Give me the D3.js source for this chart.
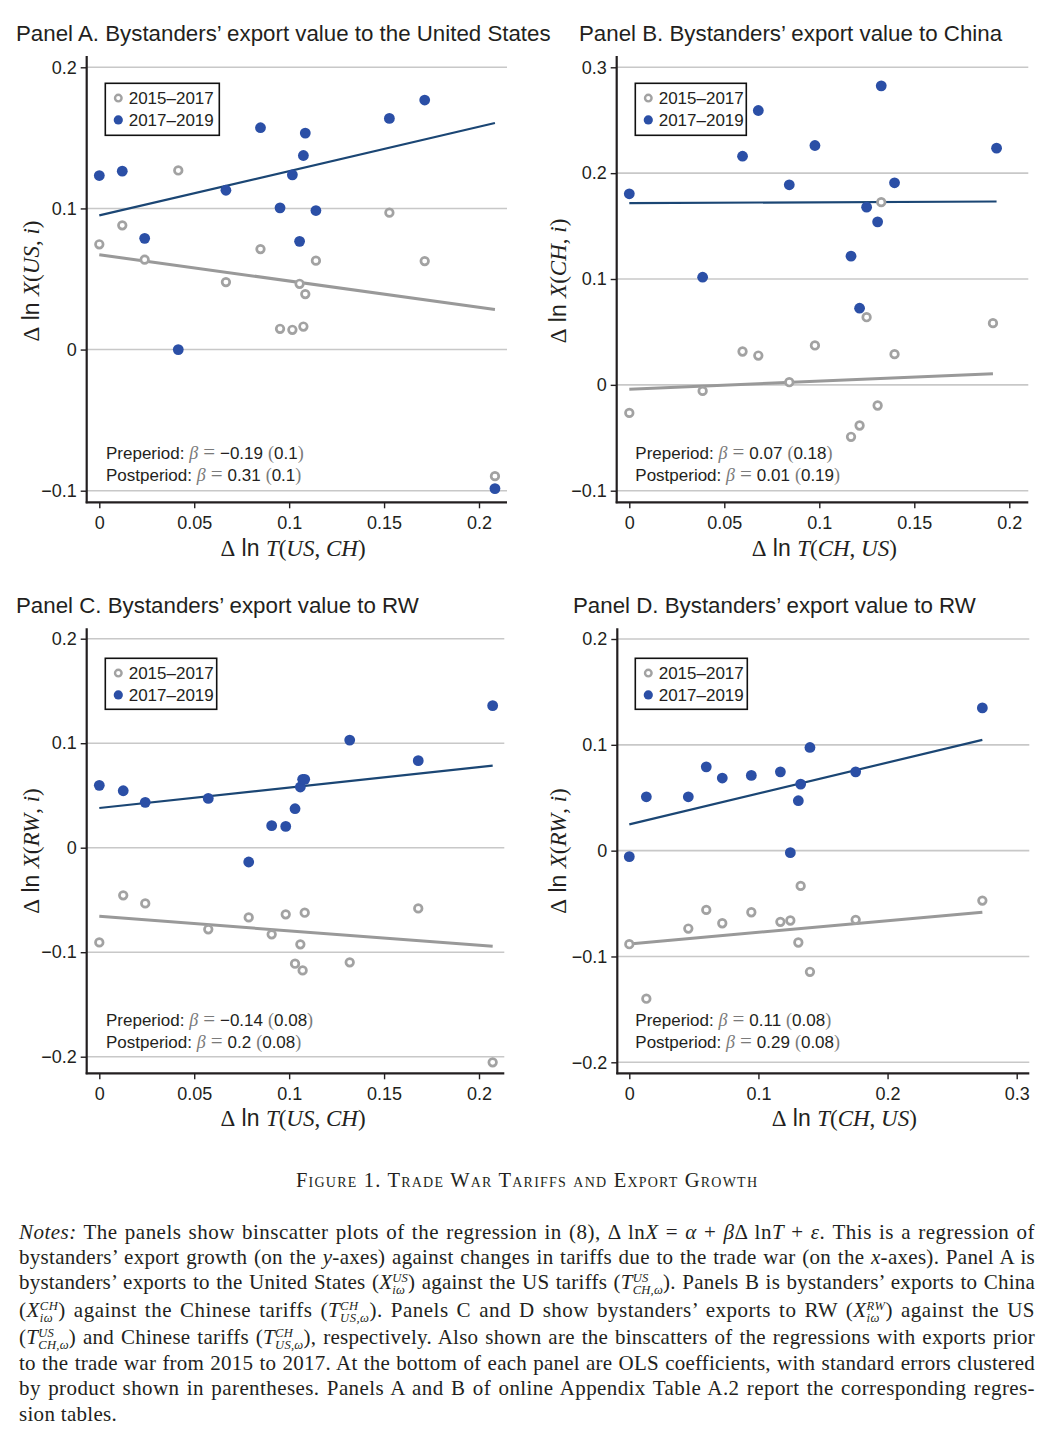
<!DOCTYPE html>
<html><head><meta charset="utf-8">
<script src="https://cdn.jsdelivr.net/npm/d3@7"></script>
<style>
body{margin:0;background:#fff;}
#wrap{position:relative;width:1052px;height:1449px;overflow:hidden;background:#fff;}
svg{position:absolute;left:0;top:0;}
.nl{position:absolute;left:19px;width:1016px;height:25px;line-height:25px;font-family:"Liberation Serif","Times New Roman",serif;font-size:21px;color:#231f20;white-space:nowrap;text-align:left;}
.nl.just{text-align:justify;text-align-last:justify;}
.ss{display:inline-block;vertical-align:-0.4em;font-size:0.6em;font-style:italic;line-height:0.95;text-align:left;}
.ss span{display:block;}
</style></head><body><div id="wrap"><svg id="chart" width="1052" height="1200"></svg></div>
<script>
// ---------------- DATA ----------------
const panelTitles = [
  "Panel A. Bystanders’ export value to the United States",
  "Panel B. Bystanders’ export value to China",
  "Panel C. Bystanders’ export value to RW",
  "Panel D. Bystanders’ export value to RW"
];
const seriesNames = ["2015–2017", "2017–2019"];
const xLabelArgs = [["US", "CH"], ["CH", "US"], ["US", "CH"], ["CH", "US"]];
const yLabelArgs = ["US", "CH", "RW", "RW"];

// Panel A
const aXPre  = [0, 0.0121, 0.0239, 0.0416, 0.0667, 0.0849, 0.0952, 0.1017, 0.1055, 0.1075, 0.1085, 0.1141, 0.1528, 0.1714, 0.2084];
const aPre   = [0.0746, 0.088, 0.0637, 0.1269, 0.0478, 0.0712, 0.0147, 0.014, 0.0466, 0.0163, 0.0393, 0.063, 0.097, 0.0627, -0.0897];
const aXPost = [0, 0.0121, 0.0239, 0.0416, 0.0667, 0.0849, 0.0952, 0.1017, 0.1055, 0.1075, 0.1085, 0.1141, 0.1528, 0.1714, 0.2084];
const aPost  = [0.1233, 0.1264, 0.0788, 0.0, 0.1129, 0.1572, 0.1004, 0.1238, 0.0767, 0.1375, 0.1534, 0.0985, 0.1638, 0.1768, -0.0985];
const aFitPre = [0.0672, 0.0284];
const aFitPost = [0.0951, 0.1605];

// Panel B
const bXPre  = [0, 0.0386, 0.0596, 0.0679, 0.0842, 0.0977, 0.1167, 0.1212, 0.1249, 0.1307, 0.1326, 0.1396, 0.1914];
const bPre   = [-0.0265, -0.0057, 0.0315, 0.0277, 0.0025, 0.0372, -0.0491, -0.0384, 0.0639, -0.0195, 0.1726, 0.029, 0.0583];
const bXPost = [0, 0.0386, 0.0596, 0.0679, 0.0842, 0.0977, 0.1167, 0.1212, 0.1249, 0.1307, 0.1326, 0.1396, 0.1933];
const bPost  = [0.1805, 0.1017, 0.216, 0.2592, 0.189, 0.2261, 0.1216, 0.0724, 0.1679, 0.154, 0.2825, 0.1909, 0.2236];
const bFitPre = [-0.0041, 0.0104];
const bFitPost = [0.1717, 0.1732];

// Panel C
const cXPre  = [0, 0.0126, 0.0242, 0.0574, 0.0787, 0.0908, 0.0982, 0.1031, 0.1059, 0.1071, 0.1082, 0.1319, 0.168, 0.2072];
const cPre   = [-0.0906, -0.0456, -0.0533, -0.0781, -0.0667, -0.0829, -0.0638, -0.111, -0.0925, -0.1174, -0.0622, -0.1097, -0.0581, -0.2054];
const cXPost = [0, 0.0126, 0.0242, 0.0574, 0.0787, 0.0908, 0.0982, 0.1031, 0.1059, 0.1071, 0.1082, 0.1319, 0.168, 0.2072];
const cPost  = [0.0597, 0.0545, 0.0434, 0.0472, -0.0137, 0.0211, 0.0204, 0.0373, 0.0581, 0.0654, 0.0654, 0.103, 0.0833, 0.1359];
const cFitPre = [-0.0657, -0.0944];
const cFitPost = [0.038, 0.0785];

// Panel D
const dXPre  = [0, 0.0132, 0.0457, 0.0596, 0.072, 0.0945, 0.117, 0.1247, 0.1309, 0.1327, 0.1399, 0.1753, 0.2734];
const dPre   = [-0.0884, -0.1399, -0.0736, -0.056, -0.0686, -0.0582, -0.0673, -0.066, -0.0868, -0.0333, -0.1145, -0.0654, -0.0472];
const dXPost = [0, 0.0132, 0.0457, 0.0596, 0.072, 0.0945, 0.117, 0.1247, 0.1309, 0.1327, 0.1399, 0.1753, 0.2734];
const dPost  = [-0.0057, 0.0509, 0.0509, 0.0792, 0.0686, 0.0711, 0.0745, -0.0019, 0.0472, 0.0629, 0.0975, 0.0745, 0.1349];
const dFitPre = [-0.0881, -0.0582];
const dFitPost = [0.0248, 0.1047];

const betaPre  = [-0.19, 0.07, -0.14, 0.11];
const sePre    = [0.1, 0.18, 0.08, 0.08];
const betaPost = [0.31, 0.01, 0.2, 0.29];
const sePost   = [0.1, 0.19, 0.08, 0.08];

const xTicksAC = [0, 0.05, 0.1, 0.15, 0.2];
const xTicksB  = [0, 0.05, 0.1, 0.15, 0.2];
const xTicksD  = [0, 0.1, 0.2, 0.3];
const yTicksA  = [-0.1, 0, 0.1, 0.2];
const yTicksB  = [-0.1, 0, 0.1, 0.2, 0.3];
const yTicksCD = [-0.2, -0.1, 0, 0.1, 0.2];

const captionText = "Figure 1. Trade War Tariffs and Export Growth";

// ---------------- LAYOUT / STYLE ----------------
const ink = "#231f20";
const blue = "#2b4fa6", blueLine = "#1b4674", grey = "#a2a2a2", greyLine = "#999999", gridC = "#c8c8c8", mathGrey = "#7a7a7a";
const sans = "'Liberation Sans', Arial, Helvetica, sans-serif";
const serif = "'Liberation Serif', 'Times New Roman', serif";

const panels = [
  {xPre:aXPre, pre:aPre, xPost:aXPost, post:aPost, fitPre:aFitPre, fitPost:aFitPost, xTicks:xTicksAC, yTicks:yTicksA,
   xDom:[0,0.2], xR:[99.3,479], yDom:[-0.1,0.2], yR:[490.7,67.3],
   left:86.7, right:507, top:56, bottom:502.3, title:[16,41], xt:[293,556], yt:[39,281], legend:[105.3,83.3,114,52], stat:[106,459]},
  {xPre:bXPre, pre:bPre, xPost:bXPost, post:bPost, fitPre:bFitPre, fitPost:bFitPost, xTicks:xTicksB, yTicks:yTicksB,
   xDom:[0,0.2], xR:[629.3,1009.3], yDom:[-0.1,0.3], yR:[490.7,67.3],
   left:616.7, right:1028.3, top:56, bottom:502.3, title:[579,41], xt:[824.3,556], yt:[566,281], legend:[635.3,83.3,111,52], stat:[635.3,459]},
  {xPre:cXPre, pre:cPre, xPost:cXPost, post:cPost, fitPre:cFitPre, fitPost:cFitPost, xTicks:xTicksAC, yTicks:yTicksCD,
   xDom:[0,0.2], xR:[99.3,479], yDom:[-0.2,0.2], yR:[1056.7,638.7],
   left:86.7, right:504.3, top:628.3, bottom:1073.3, title:[16,613], xt:[293,1126], yt:[39,851], legend:[105.3,658.3,111.4,51], stat:[106,1026]},
  {xPre:dXPre, pre:dPre, xPost:dXPost, post:dPost, fitPre:dFitPre, fitPost:dFitPost, xTicks:xTicksD, yTicks:yTicksCD,
   xDom:[0,0.3], xR:[629.3,1016.7], yDom:[-0.2,0.2], yR:[1062.3,639],
   left:617.3, right:1029.3, top:628.3, bottom:1073.3, title:[573,613], xt:[844.3,1126], yt:[566,851], legend:[635.3,658.3,112,51], stat:[635.3,1026]}
];

const fmt = v => v === 0 ? "0" : (v < 0 ? "\u2212" : "") + String(+Math.abs(v).toFixed(3));
const fmtNum = v => (v < 0 ? "\u2212" : "") + String(Math.abs(v));

const svg = d3.select("#chart");

panels.forEach((p, i) => {
  const g = svg.append("g");
  const x = d3.scaleLinear().domain(p.xDom).range(p.xR);
  const y = d3.scaleLinear().domain(p.yDom).range(p.yR);

  // title
  g.append("text").attr("x", p.title[0]).attr("y", p.title[1])
    .attr("font-family", sans).attr("font-size", 22.3).attr("fill", ink).text(panelTitles[i]);

  // grid lines
  g.selectAll("line.grid").data(p.yTicks).join("line").attr("class", "grid")
    .attr("x1", p.left).attr("x2", p.right).attr("y1", d => y(d)).attr("y2", d => y(d))
    .attr("stroke", gridC).attr("stroke-width", 1.6);

  // axes
  const ya = g.append("g").attr("transform", `translate(${p.left},0)`)
    .call(d3.axisLeft(y).tickValues(p.yTicks).tickFormat(fmt).tickSize(6).tickPadding(4));
  const xa = g.append("g").attr("transform", `translate(0,${p.bottom})`)
    .call(d3.axisBottom(x).tickValues(p.xTicks).tickFormat(fmt).tickSize(6).tickPadding(8));
  [ya, xa].forEach(a => {
    a.select(".domain").remove();
    a.selectAll(".tick line").attr("stroke", ink).attr("stroke-width", 1.4);
    a.selectAll(".tick text").attr("font-family", sans).attr("font-size", 18).attr("fill", ink);
  });
  g.append("line").attr("x1", p.left).attr("x2", p.left).attr("y1", p.top).attr("y2", p.bottom + 1)
    .attr("stroke", ink).attr("stroke-width", 2.2);
  g.append("line").attr("x1", p.left - 1).attr("x2", p.right).attr("y1", p.bottom).attr("y2", p.bottom)
    .attr("stroke", ink).attr("stroke-width", 2.2);

  // fit lines
  const line = d3.line().x(d => x(d[0])).y(d => y(d[1]));
  g.append("path").datum([[p.xPre[0], p.fitPre[0]], [p.xPre[p.xPre.length - 1], p.fitPre[1]]])
    .attr("d", line).attr("stroke", greyLine).attr("stroke-width", 3).attr("fill", "none");
  g.append("path").datum([[p.xPost[0], p.fitPost[0]], [p.xPost[p.xPost.length - 1], p.fitPost[1]]])
    .attr("d", line).attr("stroke", blueLine).attr("stroke-width", 2.2).attr("fill", "none");

  // points
  g.selectAll("circle.pre").data(p.pre.map((v, k) => [p.xPre[k], v])).join("circle").attr("class", "pre")
    .attr("cx", d => x(d[0])).attr("cy", d => y(d[1])).attr("r", 3.8)
    .attr("fill", "#fff").attr("stroke", grey).attr("stroke-width", 2.7);
  g.selectAll("circle.post").data(p.post.map((v, k) => [p.xPost[k], v])).join("circle").attr("class", "post")
    .attr("cx", d => x(d[0])).attr("cy", d => y(d[1])).attr("r", 5.4)
    .attr("fill", blue);

  // legend
  const [lx, ly, lw, lh] = p.legend;
  const lg = g.append("g");
  lg.append("rect").attr("x", lx).attr("y", ly).attr("width", lw).attr("height", lh)
    .attr("fill", "#fff").attr("stroke", "#111").attr("stroke-width", 1.6);
  const rows = [ly + 14.8, ly + 36.6];
  lg.append("circle").attr("cx", lx + 13).attr("cy", rows[0]).attr("r", 3.3)
    .attr("fill", "#fff").attr("stroke", grey).attr("stroke-width", 2.4);
  lg.append("circle").attr("cx", lx + 13).attr("cy", rows[1]).attr("r", 4.6).attr("fill", blue);
  seriesNames.forEach((s, k) => {
    lg.append("text").attr("x", lx + 23.4).attr("y", rows[k]).attr("dy", "0.36em")
      .attr("font-family", sans).attr("font-size", 17).attr("fill", ink).text(s);
  });

  // stats
  const stats = [["Preperiod: ", betaPre[i], sePre[i]], ["Postperiod: ", betaPost[i], sePost[i]]];
  stats.forEach((s, k) => {
    const t = g.append("text").attr("x", p.stat[0]).attr("y", p.stat[1] + k * 22)
      .attr("font-family", sans).attr("font-size", 17).attr("fill", ink);
    t.append("tspan").text(s[0]);
    t.append("tspan").attr("font-family", serif).attr("font-style", "italic").attr("font-size", 18).attr("fill", mathGrey).text("β");
    t.append("tspan").attr("dx", 5).attr("font-family", serif).attr("font-size", 21).attr("fill", mathGrey).text("=");
    t.append("tspan").attr("dx", 5).text(fmtNum(s[1]));
    t.append("tspan").attr("dx", 5).attr("font-family", serif).attr("font-size", 18).attr("fill", mathGrey).text("(");
    t.append("tspan").text(String(s[2]));
    t.append("tspan").attr("font-family", serif).attr("font-size", 18).attr("fill", mathGrey).text(")");
  });

  // x axis title
  const xt = g.append("text").attr("x", p.xt[0]).attr("y", p.xt[1]).attr("text-anchor", "middle")
    .attr("font-size", 23).attr("fill", ink).attr("font-family", serif);
  xt.append("tspan").text("Δ");
  xt.append("tspan").attr("font-family", sans).text(" ln ");
  xt.append("tspan").attr("font-style", "italic").text("T");
  xt.append("tspan").text("(");
  xt.append("tspan").attr("font-style", "italic").text(xLabelArgs[i][0]);
  xt.append("tspan").text(", ");
  xt.append("tspan").attr("font-style", "italic").text(xLabelArgs[i][1]);
  xt.append("tspan").text(")");

  // y axis title
  const yt = g.append("text").attr("transform", `translate(${p.yt[0]},${p.yt[1]}) rotate(-90)`)
    .attr("text-anchor", "middle").attr("font-size", 23).attr("fill", ink).attr("font-family", serif);
  yt.append("tspan").text("Δ");
  yt.append("tspan").attr("font-family", sans).text(" ln ");
  yt.append("tspan").attr("font-style", "italic").text("X");
  yt.append("tspan").text("(");
  yt.append("tspan").attr("font-style", "italic").text(yLabelArgs[i]);
  yt.append("tspan").text(", ");
  yt.append("tspan").attr("font-style", "italic").text("i");
  yt.append("tspan").text(")");
});

// caption
svg.append("text").attr("x", 296).attr("y", 1187)
  .attr("font-family", serif).attr("font-size", 20.5).attr("fill", ink)
  .attr("textLength", 461).attr("lengthAdjust", "spacing")
  .style("font-variant", "small-caps").text(captionText);

// notes
const ss = (sup, sub) => `<span class="ss"><span>${sup}</span><span>${sub}</span></span>`;
const noteLines = [
  `<i>Notes:</i> The panels show binscatter plots of the regression in (8), Δ ln<i>X</i> = <i>α</i> + <i>β</i>Δ ln<i>T</i> + <i>ε</i>. This is a regression of`,
  `bystanders’ export growth (on the <i>y</i>-axes) against changes in tariffs due to the trade war (on the <i>x</i>-axes). Panel A is`,
  `bystanders’ exports to the United States (<i>X</i>${ss("US","iω")}) against the US tariffs (<i>T</i>${ss("US","CH,ω")}). Panels B is bystanders’ exports to China`,
  `(<i>X</i>${ss("CH","iω")}) against the Chinese tariffs (<i>T</i>${ss("CH","US,ω")}). Panels C and D show bystanders’ exports to RW (<i>X</i>${ss("RW","iω")}) against the US`,
  `(<i>T</i>${ss("US","CH,ω")}) and Chinese tariffs (<i>T</i>${ss("CH","US,ω")}), respectively. Also shown are the binscatters of the regressions with exports prior`,
  `to the trade war from 2015 to 2017. At the bottom of each panel are OLS coefficients, with standard errors clustered`,
  `by product shown in parentheses. Panels A and B of online Appendix Table A.2 report the corresponding regres-`,
  `sion tables.`
];
const baselines = [1240, 1265, 1290, 1318, 1345, 1371, 1396, 1422];
const wrap = d3.select("#wrap");
noteLines.forEach((h, k) => {
  const div = wrap.append("div").attr("class", "nl").style("top", (baselines[k] - 19.8) + "px");
  const span = div.append("span").html(h);
  const w = span.node().getBoundingClientRect().width;
  const n = span.node().textContent.length;
  const target = 1016;
  let ls = 0.3;
  if (k < noteLines.length - 1) {
    ls = Math.max(-0.6, Math.min(0.6, 0.6 * (target - w) / n));
    if (w + ls * n > target - 2) ls = (target - 2 - w) / n;
    div.classed("just", true);
  }
  div.style("letter-spacing", ls + "px");
});
</script></body></html>
